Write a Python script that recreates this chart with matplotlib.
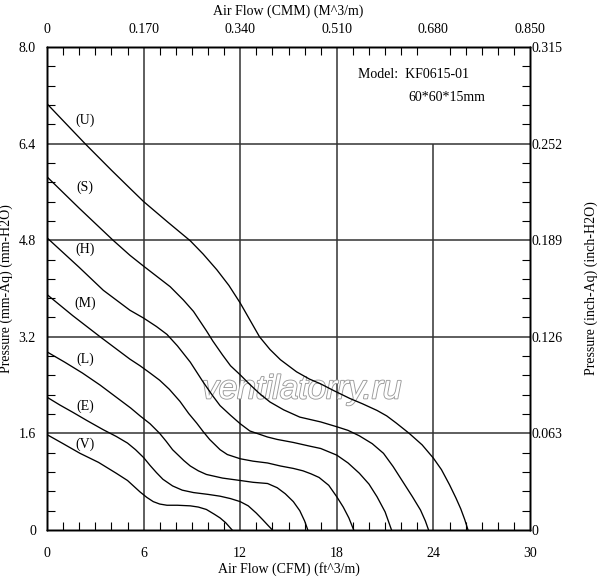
import matplotlib
matplotlib.use("Agg")
import matplotlib.pyplot as plt
import matplotlib.patheffects as pe
from matplotlib import font_manager
import numpy as np

plt.rcParams['font.family'] = ['Liberation Serif', 'DejaVu Serif']

# ---- data ----
cfm_ticks = [0, 6, 12, 18, 24, 30]
cmm_labels = ["0", "0.170", "0.340", "0.510", "0.680", "0.850"]
mm_ticks = [0, 1.6, 3.2, 4.8, 6.4, 8.0]
mm_labels = ["0", "1.6", "3.2", "4.8", "6.4", "8.0"]
inch_labels = ["0", "0.063", "0.126", "0.189", "0.252", "0.315"]

curve_names = ["(U)", "(S)", "(H)", "(M)", "(L)", "(E)", "(V)"]

u_x = [0, 1, 2.36, 4, 5.15, 6, 7.5, 8.9, 9.7, 10.55, 11.3, 12, 12.6, 13.2, 13.85, 14.5, 15.5, 16.3, 17,
       17.8, 18.8, 19.6, 20.5, 21.1, 21.7, 22.5, 23.3, 24, 24.5, 25, 25.4, 25.7, 25.95, 26.15]
u_y = [7.06, 6.78, 6.4, 5.96, 5.66, 5.44, 5.1, 4.79, 4.57, 4.31, 4.05, 3.76, 3.48, 3.2, 2.99, 2.82, 2.62, 2.5, 2.42,
       2.31, 2.18, 2.09, 1.98, 1.89, 1.77, 1.6, 1.41, 1.19, 1.0, 0.75, 0.53, 0.35, 0.17, 0]

s_x = [0, 2, 4.1, 5.15, 6, 7.65, 8.47, 9.1, 9.9, 10.3, 10.9, 11.4, 12, 12.6, 13.2, 13.85, 14.7, 15.7, 17,
       18, 18.7, 19.4, 20.2, 20.9, 21.5, 22.1, 22.7, 23.2, 23.5, 23.7]
s_y = [5.85, 5.33, 4.8, 4.55, 4.37, 4.03, 3.81, 3.62, 3.3, 3.13, 2.9, 2.72, 2.57, 2.41, 2.26, 2.12, 1.99, 1.87, 1.79,
       1.71, 1.65, 1.56, 1.43, 1.27, 1.05, 0.8, 0.55, 0.33, 0.15, 0]

h_x = [0, 2, 3.5, 5.15, 6, 6.8, 7.45, 8.1, 8.9, 9.7, 10.3, 10.75, 11.4, 12, 12.6, 13.7, 14.3, 15.3, 16.3,
       17.0, 18, 18.7, 19.4, 20, 20.5, 21.0, 21.4]
h_y = [4.84, 4.35, 3.97, 3.64, 3.51, 3.37, 3.24, 3.05, 2.78, 2.45, 2.22, 2.06, 1.9, 1.76, 1.64, 1.54, 1.5, 1.45, 1.39,
       1.35, 1.24, 1.11, 0.94, 0.76, 0.55, 0.3, 0]

m_x = [0, 1.6, 3.3, 4.3, 5.15, 5.78, 6.4, 7.0, 7.6, 8.26, 8.8, 9.3, 9.7, 10.1, 10.75, 11.2, 12, 12.8, 13.7,
       14.5, 15.3, 15.9, 16.4, 16.9, 17.5, 18.0, 18.4, 18.75, 19.05]
m_y = [3.9, 3.55, 3.2, 3.0, 2.83, 2.72, 2.6, 2.48, 2.33, 2.13, 1.93, 1.77, 1.63, 1.5, 1.33, 1.25, 1.18, 1.14, 1.11,
       1.06, 1.02, 0.98, 0.93, 0.87, 0.74, 0.55, 0.38, 0.2, 0]

l_x = [0, 1.1, 2.2, 3.3, 4.3, 5.2, 5.78, 6.4, 7.0, 7.4, 7.8, 8.5, 8.9, 9.4, 9.9, 10.9, 12, 12.8, 13.7,
       14.3, 14.8, 15.3, 15.7, 16.0, 16.2]
l_y = [2.95, 2.78, 2.6, 2.4, 2.2, 2.02, 1.89, 1.76, 1.6, 1.47, 1.33, 1.15, 1.06, 0.98, 0.92, 0.86, 0.82, 0.79, 0.77,
       0.7, 0.6, 0.47, 0.32, 0.15, 0]

e_x = [0, 0.8, 1.6, 2.5, 3.5, 4.3, 5.0, 5.5, 6, 6.4, 6.8, 7.2, 7.8, 8.4, 9.1, 10.0, 10.75, 11.4, 12,
       12.5, 13.0, 13.4, 13.75, 14.0]
e_y = [2.2, 2.07, 1.95, 1.81, 1.66, 1.55, 1.44, 1.33, 1.2, 1.07, 0.95, 0.84, 0.73, 0.66, 0.62, 0.59, 0.56, 0.52, 0.47,
       0.4, 0.28, 0.17, 0.07, 0]

v_x = [0, 1, 2.05, 3.2, 4.3, 5.0, 5.78, 6.2, 6.6, 7.0, 7.45, 8.1, 8.9, 9.4, 9.9, 10.4, 10.75, 11.1, 11.5]
v_y = [1.58, 1.43, 1.27, 1.12, 0.94, 0.82, 0.63, 0.54, 0.47, 0.43, 0.41, 0.41, 0.4, 0.38, 0.34, 0.26, 0.2, 0.12, 0]

label_y = [6.79, 5.68, 4.65, 3.76, 2.83, 2.05, 1.42]
label_x = 2.36

curves = [(u_x, u_y), (s_x, s_y), (h_x, h_y), (m_x, m_y), (l_x, l_y), (e_x, e_y), (v_x, v_y)]

# ---- figure ----
fig = plt.figure(figsize=(6.0, 5.8), dpi=100)
ax = fig.add_axes([47/600, 1-530/580, 483/600, 483/580])
ax.set_xlim(0, 30)
ax.set_ylim(0, 8.0)

grid_kw = dict(color='#333333', lw=1.1, zorder=1)
for x in cfm_ticks[1:4]:
    ax.axvline(x, **grid_kw)
ax.vlines(cfm_ticks[4], 0, mm_ticks[4], **grid_kw)
for y in mm_ticks[1:5]:
    ax.axhline(y, **grid_kw)

for (xs, ys) in curves:
    ax.plot(xs, ys, color='black', lw=0.95, zorder=3, solid_joinstyle='round')

fs = 10
for name, ly in zip(curve_names, label_y):
    ax.text(label_x, ly, name, ha='center', va='center', fontsize=fs)

ax.text(19.3, 7.54, "Model:  KF0615-01", ha='left', va='center', fontsize=fs)
ax.text(22.45, 7.17, "60*60*15mm", ha='left', va='center', fontsize=fs)

avail = {f.name for f in font_manager.fontManager.ttflist}
wm_family = ['Liberation Sans Narrow', 'Liberation Sans'] if 'Liberation Sans Narrow' in avail else ['Liberation Sans']
ax.text(15.84, 2.32, "ventilatorry.ru", ha='center', va='center', fontsize=24,
        family=wm_family, style='italic', color='white',
        path_effects=[pe.withStroke(linewidth=1.3, foreground='#9a9a9a')], zorder=2)

# ticks
ax.set_xticks(cfm_ticks)
ax.set_xticklabels([str(t) for t in cfm_ticks], fontsize=fs)
ax.set_xticks(np.arange(0, 31, 1), minor=True)
ax.set_yticks(mm_ticks)
ax.set_yticklabels(mm_labels, fontsize=fs)
ax.set_yticks(np.arange(0, 8.01, 0.32), minor=True)
ax.tick_params(which='major', length=0, pad=8)
ax.tick_params(axis='x', which='major', pad=12)
ax.tick_params(which='minor', direction='in', length=6, width=0.8)
ax.set_xlabel("Air Flow (CFM) (ft^3/m)", fontsize=fs, labelpad=2)
ax.set_ylabel("Pressure (mm-Aq) (mm-H2O)", fontsize=fs, labelpad=4)

axt = ax.twiny()
axt.set_xlim(0, 30)
axt.set_xticks(cfm_ticks)
axt.set_xticklabels(cmm_labels, fontsize=fs)
axt.set_xticks(np.arange(0, 31, 1), minor=True)
axt.tick_params(which='major', length=0, pad=8)
axt.tick_params(which='minor', direction='in', length=6, width=0.8)
axt.set_xlabel("Air Flow (CMM) (M^3/m)", fontsize=fs, labelpad=6)

axr = ax.twinx()
axr.set_ylim(0, 8.0)
axr.set_yticks(mm_ticks)
axr.set_yticklabels(inch_labels, fontsize=fs)
axr.set_yticks(np.arange(0, 8.01, 0.32), minor=True)
axr.tick_params(which='major', length=0, pad=1)
axr.tick_params(which='minor', direction='in', length=6, width=0.8)
axr.set_ylabel("Pressure (inch-Aq) (inch-H2O)", fontsize=fs, labelpad=16)

for a in (ax, axt, axr):
    for sp in a.spines.values():
        sp.set_linewidth(1.0)

fig.savefig("out.png", dpi=100)
